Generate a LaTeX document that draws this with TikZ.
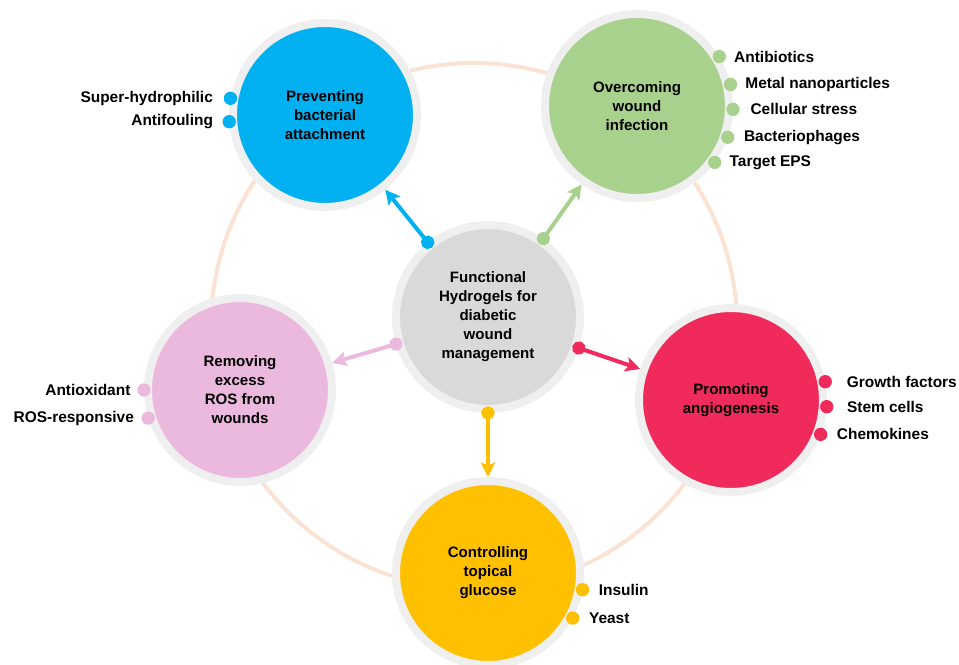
\documentclass[tikz,border=0pt]{standalone}
\usepackage{fontspec}
\setmainfont{Liberation Sans}
\usetikzlibrary{arrows.meta,positioning}
\definecolor{cblu}{HTML}{00B0F0}
\definecolor{cgrn}{HTML}{A9D18E}
\definecolor{cpnk}{HTML}{EBB9DD}
\definecolor{cred}{HTML}{F02A5A}
\definecolor{cylw}{HTML}{FFC000}
\definecolor{chub}{HTML}{D9D9D9}
\definecolor{crim}{HTML}{EFEFEF}
\definecolor{cpch}{HTML}{FBE3D4}

\tikzset{
 topic/.style={circle,fill=#1,draw=crim,line width=6pt,minimum size=138pt,inner sep=0pt,
  align=center,font=\fontsize{11.3}{14.25}\selectfont\bfseries},
 link/.style={#1,line width=3pt,{Circle[length=10pt]}-{Stealth[length=11pt,width=11pt,inset=2.5pt]},
  shorten <=-5pt},
 dot/.style={circle,fill=#1,minimum size=10pt,inner sep=0pt,outer sep=0pt},
 item/.style={inner sep=0pt,font=\fontsize{11.6}{14}\selectfont\bfseries},
}

\begin{document}
\begin{tikzpicture}[x=0.75pt,y=-0.75pt]
 \useasboundingbox (0,0) rectangle (959,664);
 % ring behind the five topics
 \draw[cpch,line width=3pt] (474,326) circle [radius=263];

 \node[topic=chub] (hub) at (488,317) {Functional\\Hydrogels for\\diabetic\\wound\\management};
 \node[topic=cblu] (attach) at (325,115) {Preventing\\bacterial\\attachment};
 \node[topic=cgrn] (infect) at (637,106) {Overcoming\\wound\\infection};
 \node[topic=cpnk] (ros) at (240,390) {Removing\\excess\\ROS from\\wounds};
 \node[topic=cred] (angio) at (731,400) {Promoting\\angiogenesis};
 \node[topic=cylw] (glucose) at (488,573) {Controlling\\topical\\glucose};

 \draw[link=cblu] (hub) -- (attach);
 \draw[link=cgrn] (hub) -- (infect);
 \draw[link=cpnk] (hub) -- (ros);
 \draw[link=cred] (hub) -- (angio);
 \draw[link=cylw] (hub) -- (glucose);

 % bullet points round each topic
 \foreach \a/\t/\d [count=\i] in {170/Super-hydrophilic/8pt, 184/Antifouling/7pt}{
  \node[dot=cblu] (blu\i) at (attach.\a) {};
  \node[item,left=\d of blu\i] {\t};
 }
 \foreach \a/\t/\d [count=\i] in {31/Antibiotics/6pt, 13/Metal nanoparticles/6pt,
   -2/Cellular stress/8pt, -19/Bacteriophages/7pt, -36/Target EPS/6pt}{
  \node[dot=cgrn] (grn\i) at (infect.\a) {};
  \node[item,right=\d of grn\i] {\t};
 }
 \foreach \a/\t/\d [count=\i] in {180/Antioxidant/5pt, 197/ROS-responsive/5.5pt}{
  \node[dot=cpnk] (pnk\i) at (ros.\a) {};
  \node[item,left=\d of pnk\i] {\t};
 }
 \foreach \a/\t/\d [count=\i] in {11/Growth factors/11pt, -4/Stem cells/10pt, -21/Chemokines/7pt}{
  \node[dot=cred] (red\i) at (angio.\a) {};
  \node[item,right=\d of red\i] {\t};
 }
 \foreach \a/\t/\d [count=\i] in {-10/Insulin/7pt, -28/Yeast/7pt}{
  \node[dot=cylw] (ylw\i) at (glucose.\a) {};
  \node[item,right=\d of ylw\i] {\t};
 }
\end{tikzpicture}
\end{document}
